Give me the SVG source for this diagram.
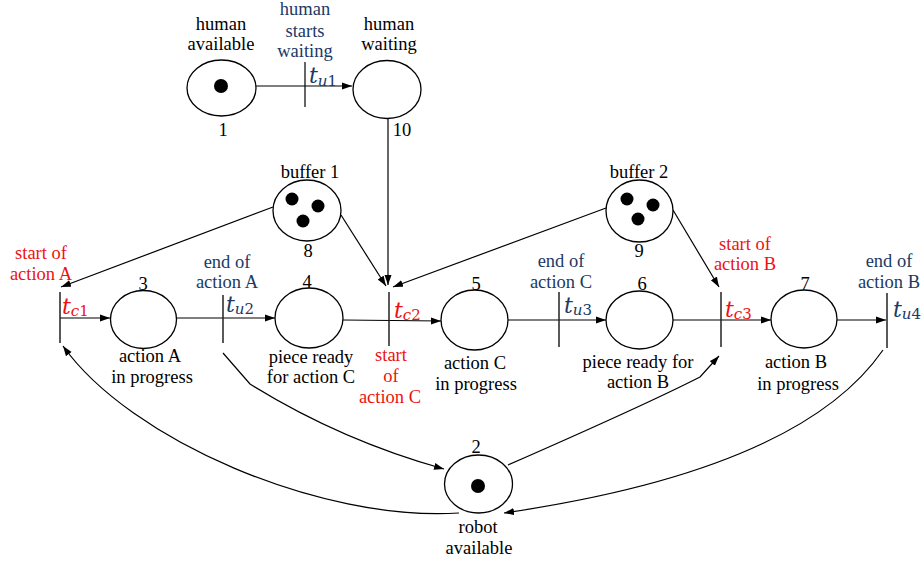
<svg xmlns="http://www.w3.org/2000/svg" width="921" height="563" viewBox="0 0 921 563" font-family="'Liberation Serif', 'Times New Roman', serif">
<style>
.pl{fill:#fff;stroke:#000;stroke-width:1.3}
.tk{fill:#000}
.tr{stroke:#222;stroke-width:1.5}
.ar{fill:none;stroke:#000;stroke-width:1.2;marker-end:url(#ah)}
.ln{fill:none;stroke:#000;stroke-width:1.2}
text{font-family:'Liberation Serif','Times New Roman',serif;font-size:18.5px;text-anchor:middle;fill:#000}
.r{fill:#ee1111}
.b{fill:#203864}
text.m{font-family:'DejaVu Serif','Liberation Serif',serif;font-style:italic;font-size:22px;text-anchor:start}
.s{font-size:15px}
.u{font-style:normal}
</style>
<defs>
<marker id="ah" markerUnits="userSpaceOnUse" markerWidth="10" markerHeight="8" refX="10" refY="4" orient="auto">
<path d="M0,0.5 L10,4 L0,7.5 z" fill="#000"/>
</marker>
</defs>
<g id="connectors">
<path class="ar" d="M256,86 L352,86"/>
<path class="ln" d="M305,62 L305,107"/>
<path class="ar" d="M388,119 L388,285"/>
<path class="ar" d="M273,207 L61,287"/>
<path class="ar" d="M341,215 L386,286"/>
<path class="ar" d="M606,208 L393,287"/>
<path class="ar" d="M673,210 L719,287"/>
<path class="ar" d="M60,318 L110,318"/>
<path class="ar" d="M177,318 L275,318"/>
<path class="ar" d="M343,320 L441,321"/>
<path class="ar" d="M508,320 L606,320"/>
<path class="ar" d="M673,320 L771,320"/>
<path class="ar" d="M837,320 L886,320"/>
<path class="ar" d="M223,353 L250,384 Q340,440 444,469"/>
<path class="ar" d="M508,465 Q645,405 700,377 L719,356"/>
<path class="ar" d="M883,350 Q800,470 504,513"/>
<path class="ar" d="M459,513 C320,522 130,440 63,346"/>
</g>
<g id="transitions">
<g id="tu1"><text class="b" x="305" y="15">human</text><text class="b" x="305" y="37">starts</text><text class="b" x="305" y="57">waiting</text>
<text class="m b" x="309" y="83">t<tspan class="s" dy="3">u</tspan><tspan class="s u">1</tspan></text></g>
<g id="tc1"><line class="tr" x1="60" y1="292" x2="60" y2="343"/><text class="r" x="41" y="259">start of</text><text class="r" x="41" y="280">action A</text>
<text class="m r" x="62" y="314">t<tspan class="s" dy="2">c</tspan><tspan class="s u">1</tspan></text></g>
<g id="tu2"><line class="tr" x1="223" y1="295" x2="223" y2="343"/><text class="b" x="227" y="268">end of</text><text class="b" x="227" y="288">action A</text>
<text class="m b" x="226" y="312">t<tspan class="s" dy="2">u</tspan><tspan class="s u">2</tspan></text></g>
<g id="tc2"><line class="tr" x1="389" y1="292" x2="389" y2="346"/><text class="r" x="391" y="361">start</text><text class="r" x="391" y="382">of</text><text class="r" x="390" y="403">action C</text>
<text class="m r" x="394" y="318">t<tspan class="s" dy="2">c</tspan><tspan class="s u">2</tspan></text></g>
<g id="tu3"><line class="tr" x1="559" y1="292" x2="559" y2="347"/><text class="b" x="561" y="267">end of</text><text class="b" x="561" y="288">action C</text>
<text class="m b" x="564" y="313">t<tspan class="s" dy="2">u</tspan><tspan class="s u">3</tspan></text></g>
<g id="tc3"><line class="tr" x1="721" y1="292" x2="721" y2="347"/><text class="r" x="745" y="250">start of</text><text class="r" x="745" y="270">action B</text>
<text class="m r" x="725" y="317">t<tspan class="s" dy="2">c</tspan><tspan class="s u">3</tspan></text></g>
<g id="tu4"><line class="tr" x1="887" y1="293" x2="887" y2="348"/><text class="b" x="889" y="267">end of</text><text class="b" x="889" y="288">action B</text>
<text class="m b" x="893" y="317">t<tspan class="s" dy="2">u</tspan><tspan class="s u">4</tspan></text></g>
</g>
<g id="p1"><ellipse class="pl" cx="221.5" cy="88" rx="34.5" ry="28"/><circle class="tk" cx="221" cy="86" r="7"/>
<text x="221" y="30">human</text><text x="221" y="50">available</text><text x="223" y="136">1</text></g>
<g id="p10"><ellipse class="pl" cx="387" cy="89.5" rx="34" ry="29"/>
<text x="389" y="30">human</text><text x="389" y="50">waiting</text><text x="402" y="136">10</text></g>
<g id="p8"><ellipse class="pl" cx="307" cy="210.5" rx="34" ry="30.5"/>
<circle class="tk" cx="292" cy="199" r="6.5"/><circle class="tk" cx="318" cy="206" r="6.5"/><circle class="tk" cx="303" cy="221" r="6.5"/>
<text x="310" y="178">buffer 1</text><text x="308" y="257">8</text></g>
<g id="p9"><ellipse class="pl" cx="639.5" cy="211" rx="33.5" ry="31"/>
<circle class="tk" cx="627" cy="199" r="6.5"/><circle class="tk" cx="653" cy="205" r="6.5"/><circle class="tk" cx="638" cy="219" r="6.5"/>
<text x="639" y="178">buffer 2</text><text x="639" y="257">9</text></g>
<g id="p3"><ellipse class="pl" cx="143.5" cy="319.5" rx="33" ry="29"/>
<text x="143" y="290">3</text><text x="150" y="362">action A</text><text x="152" y="383">in progress</text></g>
<g id="p4"><ellipse class="pl" cx="309" cy="318" rx="34" ry="30"/>
<text x="307" y="288">4</text><text x="311" y="363">piece ready</text><text x="311" y="383">for action C</text></g>
<g id="p5"><ellipse class="pl" cx="474.5" cy="320" rx="33.5" ry="30"/>
<text x="476" y="290">5</text><text x="475" y="369">action C</text><text x="476" y="390">in progress</text></g>
<g id="p6"><ellipse class="pl" cx="639.5" cy="320" rx="33.5" ry="29"/>
<text x="642" y="290">6</text><text x="638" y="368">piece ready for</text><text x="638" y="388">action B</text></g>
<g id="p7"><ellipse class="pl" cx="804" cy="319" rx="33" ry="29"/>
<text x="805" y="290">7</text><text x="796" y="368">action B</text><text x="798" y="390">in progress</text></g>
<g id="p2"><ellipse class="pl" cx="478.5" cy="484" rx="34" ry="29"/><circle class="tk" cx="478" cy="486" r="7"/>
<text x="476" y="453">2</text><text x="478" y="533">robot</text><text x="479" y="554">available</text></g>
</svg>
